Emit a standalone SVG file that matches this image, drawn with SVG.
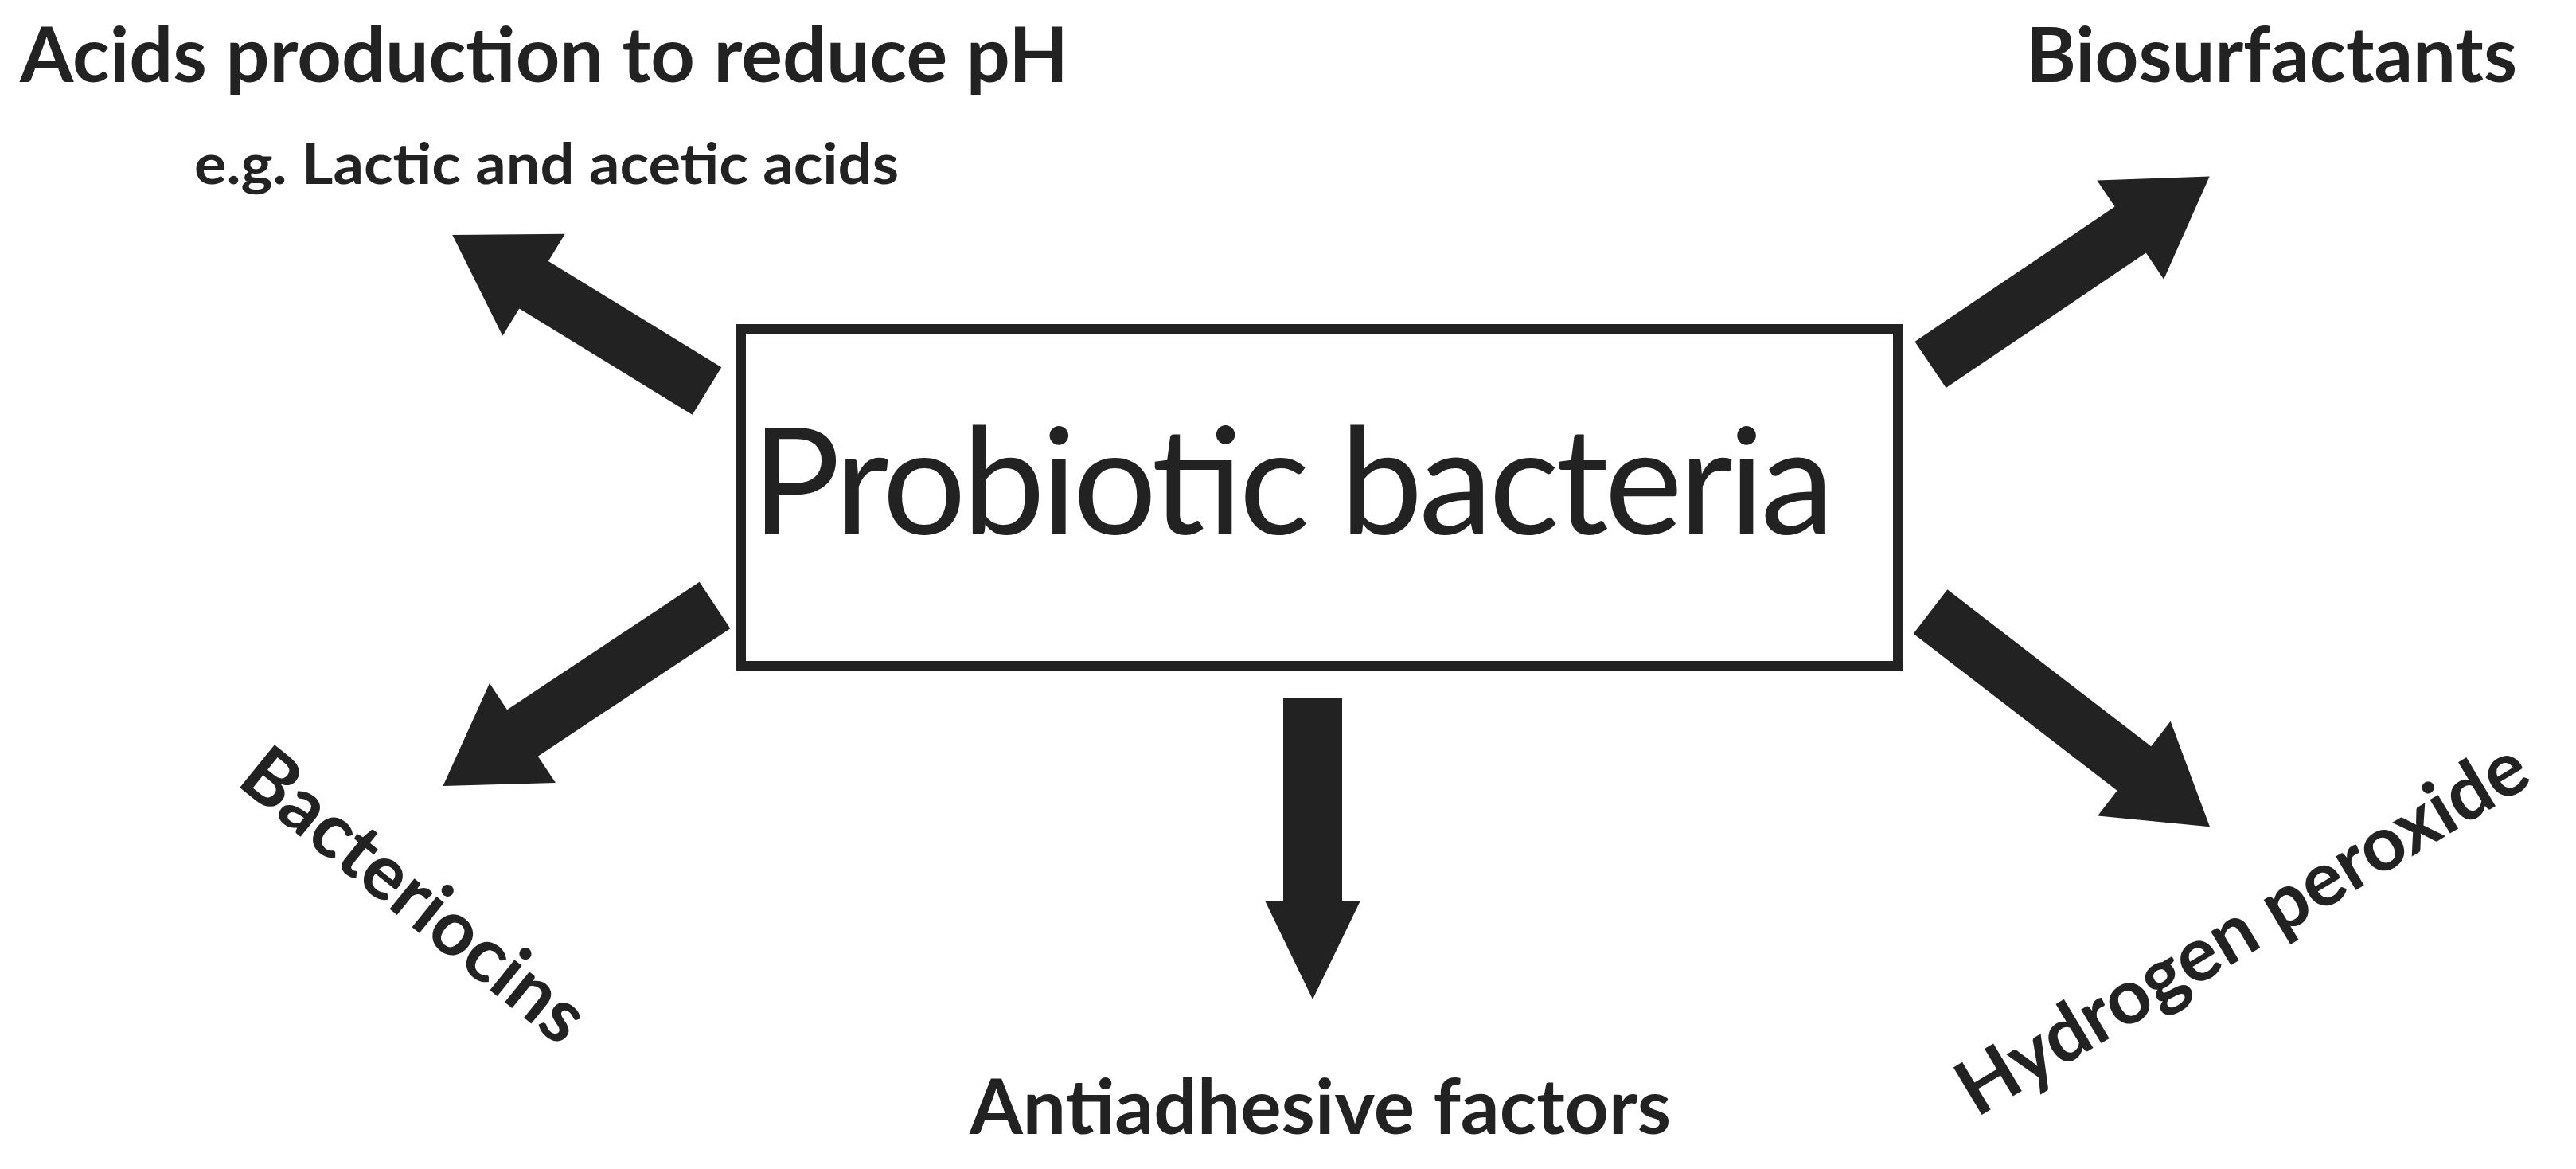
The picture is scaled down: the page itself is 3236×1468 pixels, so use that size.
<svg xmlns="http://www.w3.org/2000/svg" width="3236" height="1468" viewBox="0 0 3236 1468">
<style>
.t{font-family:Lato,"Open Sans","Liberation Sans",sans-serif;font-weight:700;fill:#222}
.a{fill:#222}
</style>
<rect width="3236" height="1468" fill="#fff"/>
<g id="center">
<rect x="931" y="413" width="1453" height="423" fill="#fff" stroke="#222" stroke-width="12"/>
<text x="1624" y="671" text-anchor="middle" font-family="Lato,'Open Sans',sans-serif" font-size="186" fill="#222" textLength="1360">Probiotic bacteria</text>
</g>
<g id="connectors">
<path class="a" transform="translate(888,491) rotate(211.5)" d="M0,-35 H255 V-75 L375,0 L255,75 V35 H0 Z"/>
<path class="a" transform="translate(2425,458) rotate(-34)" d="M0,-35 H303 V-75 L423,0 L303,75 V35 H0 Z"/>
<path class="a" transform="translate(898,760) rotate(146.4)" d="M0,-35 H290 V-75 L410,0 L290,75 V35 H0 Z"/>
<path class="a" transform="translate(1649,877) rotate(90)" d="M0,-37 H254 V-60 L378,0 L254,60 V37 H0 Z"/>
<path class="a" transform="translate(2425,768) rotate(37.6)" d="M0,-35 H323 V-75 L443,0 L323,75 V35 H0 Z"/>
</g>
<g id="acids">
<text class="t" x="25" y="103" font-size="96" textLength="1317" lengthAdjust="spacingAndGlyphs">Acids production to reduce pH</text>
<text class="t" x="244" y="231" font-size="70" textLength="885" lengthAdjust="spacingAndGlyphs">e.g. Lactic and acetic acids</text>
</g>
<g id="biosurfactants"><text class="t" x="2545" y="103" font-size="96" textLength="617" lengthAdjust="spacingAndGlyphs">Biosurfactants</text></g>
<g id="antiadhesive"><text class="t" x="1218" y="1424" font-size="96" textLength="881" lengthAdjust="spacingAndGlyphs">Antiadhesive factors</text></g>
<g id="bacteriocins"><text class="t" transform="translate(520,1125) rotate(39)" x="0" y="32" text-anchor="middle" font-size="96">Bacteriocins</text></g>
<g id="hydrogen"><text class="t" transform="translate(2817,1166) rotate(-31)" x="0" y="32" text-anchor="middle" font-size="96">Hydrogen peroxide</text></g>
</svg>
